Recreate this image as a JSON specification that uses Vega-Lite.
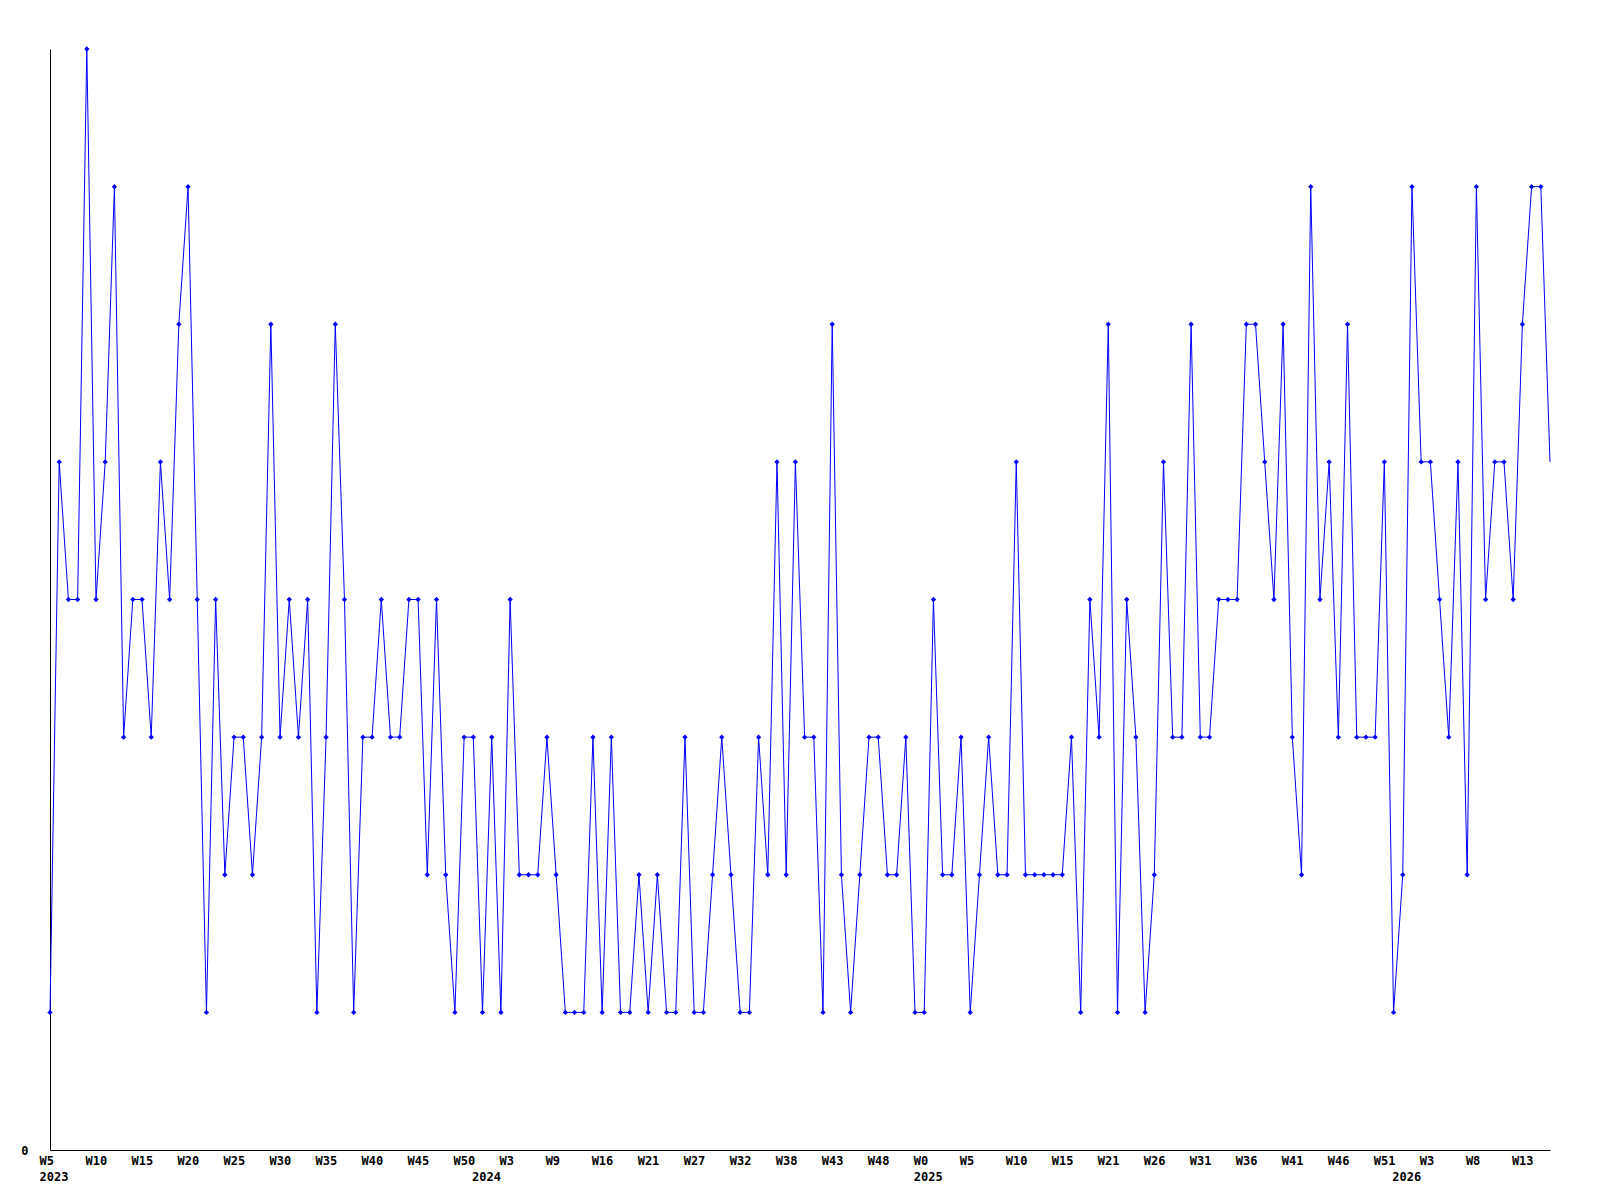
{
  "$schema": "https://vega.github.io/schema/vega-lite/v6.json",
  "width": 1500,
  "height": 1101,
  "autosize": "none",
  "padding": {"left": 50, "top": 49, "right": 50, "bottom": 50},
  "background": "white",
  "config": {"view": {"stroke": null}},
  "data": {"values": [
    {"i":0,"v":1},{"i":1,"v":5},{"i":2,"v":4},{"i":3,"v":4},{"i":4,"v":8},{"i":5,"v":4},{"i":6,"v":5},{"i":7,"v":7},{"i":8,"v":3},{"i":9,"v":4},{"i":10,"v":4},{"i":11,"v":3},{"i":12,"v":5},{"i":13,"v":4},{"i":14,"v":6},{"i":15,"v":7},{"i":16,"v":4},
    {"i":17,"v":1},{"i":18,"v":4},{"i":19,"v":2},{"i":20,"v":3},{"i":21,"v":3},{"i":22,"v":2},{"i":23,"v":3},{"i":24,"v":6},{"i":25,"v":3},{"i":26,"v":4},{"i":27,"v":3},{"i":28,"v":4},{"i":29,"v":1},{"i":30,"v":3},{"i":31,"v":6},
    {"i":32,"v":4},{"i":33,"v":1},{"i":34,"v":3},{"i":35,"v":3},{"i":36,"v":4},{"i":37,"v":3},{"i":38,"v":3},{"i":39,"v":4},{"i":40,"v":4},{"i":41,"v":2},{"i":42,"v":4},{"i":43,"v":2},{"i":44,"v":1},{"i":45,"v":3},{"i":46,"v":3},
    {"i":47,"v":1},{"i":48,"v":3},{"i":49,"v":1},{"i":50,"v":4},{"i":51,"v":2},{"i":52,"v":2},{"i":53,"v":2},{"i":54,"v":3},{"i":55,"v":2},{"i":56,"v":1},{"i":57,"v":1},{"i":58,"v":1},{"i":59,"v":3},{"i":60,"v":1},{"i":61,"v":3},{"i":62,"v":1},
    {"i":63,"v":1},{"i":64,"v":2},{"i":65,"v":1},{"i":66,"v":2},{"i":67,"v":1},{"i":68,"v":1},{"i":69,"v":3},{"i":70,"v":1},{"i":71,"v":1},{"i":72,"v":2},{"i":73,"v":3},{"i":74,"v":2},{"i":75,"v":1},{"i":76,"v":1},{"i":77,"v":3},{"i":78,"v":2},
    {"i":79,"v":5},{"i":80,"v":2},{"i":81,"v":5},{"i":82,"v":3},{"i":83,"v":3},{"i":84,"v":1},{"i":85,"v":6},{"i":86,"v":2},{"i":87,"v":1},{"i":88,"v":2},{"i":89,"v":3},{"i":90,"v":3},{"i":91,"v":2},{"i":92,"v":2},{"i":93,"v":3},{"i":94,"v":1},
    {"i":95,"v":1},{"i":96,"v":4},{"i":97,"v":2},{"i":98,"v":2},{"i":99,"v":3},{"i":100,"v":1},{"i":101,"v":2},{"i":102,"v":3},{"i":103,"v":2},{"i":104,"v":2},{"i":105,"v":5},{"i":106,"v":2},{"i":107,"v":2},{"i":108,"v":2},{"i":109,"v":2},
    {"i":110,"v":2},{"i":111,"v":3},{"i":112,"v":1},{"i":113,"v":4},{"i":114,"v":3},{"i":115,"v":6},{"i":116,"v":1},{"i":117,"v":4},{"i":118,"v":3},{"i":119,"v":1},{"i":120,"v":2},{"i":121,"v":5},{"i":122,"v":3},{"i":123,"v":3},{"i":124,"v":6},{"i":125,"v":3},
    {"i":126,"v":3},{"i":127,"v":4},{"i":128,"v":4},{"i":129,"v":4},{"i":130,"v":6},{"i":131,"v":6},{"i":132,"v":5},{"i":133,"v":4},{"i":134,"v":6},{"i":135,"v":3},{"i":136,"v":2},{"i":137,"v":7},{"i":138,"v":4},{"i":139,"v":5},{"i":140,"v":3},{"i":141,"v":6},
    {"i":142,"v":3},{"i":143,"v":3},{"i":144,"v":3},{"i":145,"v":5},{"i":146,"v":1},{"i":147,"v":2},{"i":148,"v":7},{"i":149,"v":5},{"i":150,"v":5},{"i":151,"v":4},{"i":152,"v":3},{"i":153,"v":5},{"i":154,"v":2},{"i":155,"v":7},{"i":156,"v":4},{"i":157,"v":5},
    {"i":158,"v":5},{"i":159,"v":4},{"i":160,"v":6},{"i":161,"v":7},{"i":162,"v":7},{"i":163,"v":5}
  ]},
  "encoding": {
    "x": {
      "field": "i", "type": "quantitative",
      "scale": {"domain": [0, 163], "nice": false, "zero": false},
      "axis": {
        "title": null, "grid": false, "ticks": false,
        "domainColor": "black", "domainWidth": 1,
        "values": [0,5,10,15,20,25,30,35,40,45,47,50,55,60,65,70,75,80,85,90,95,100,105,110,115,120,125,130,135,140,145,147,150,155,160],
        "labelExpr": "datum.value == 47 ? ['', '2024'] : datum.value == 147 ? ['', '2026'] : datum.value == 0 ? ['W5', '2023'] : datum.value == 95 ? ['W0', '2025'] : ['W5','W10','W15','W20','W25','W30','W35','W40','W45','W50','W3','W9','W16','W21','W27','W32','W38','W43','W48','W0','W5','W10','W15','W21','W26','W31','W36','W41','W46','W51','W3','W8','W13'][datum.value / 5]",
        "labelAlign": "left", "labelOffset": -11, "labelPadding": 5,
        "labelOverlap": false, "labelFlush": false,
        "labelFont": "DejaVu Sans Mono", "labelFontWeight": "bold", "labelFontSize": 12,
        "labelColor": "black", "labelLineHeight": 16
      }
    },
    "y": {
      "field": "v", "type": "quantitative",
      "scale": {"domain": [0, 8], "nice": false},
      "axis": {
        "title": null, "grid": false, "ticks": false, "values": [0],
        "domainColor": "black", "domainWidth": 1,
        "labelPadding": 22, "labelFont": "DejaVu Sans Mono", "labelFontWeight": "bold",
        "labelFontSize": 12, "labelColor": "black"
      }
    }
  },
  "layer": [
    {"mark": {"type": "line", "color": "#0000ff", "strokeWidth": 1}},
    {"transform": [{"filter": "datum.i < 163"}],
     "mark": {"type": "point", "shape": "diamond", "filled": true, "color": "#0000ff", "size": 28, "opacity": 1}}
  ]
}
